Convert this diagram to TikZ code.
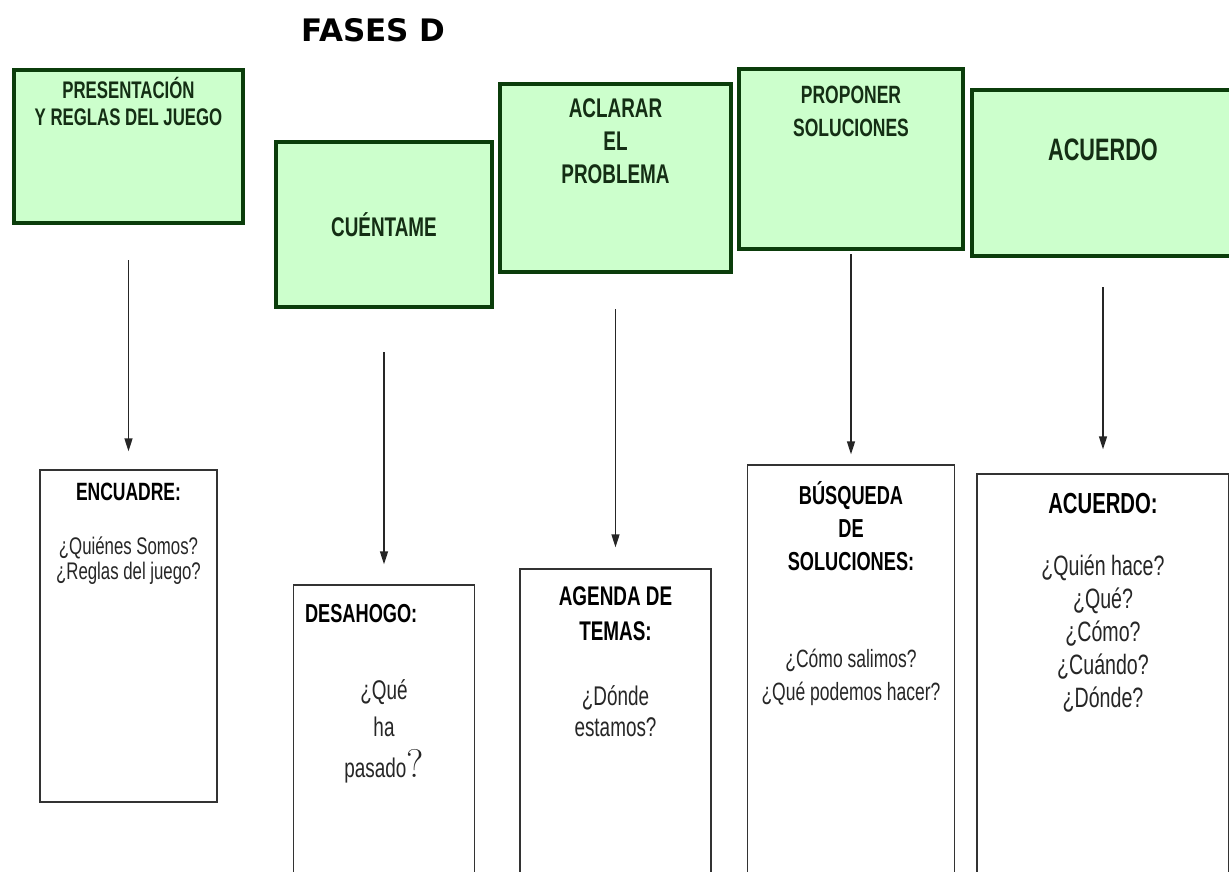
\documentclass[tikz,border=0pt]{standalone}
\usepackage{fontspec}
\newfontfamily\narrowfont[FakeStretch=0.7]{Liberation Sans}
\newfontfamily\titlefont{DejaVu Sans}
\usepackage{xcolor}
\usepackage{tikz}
\usetikzlibrary{arrows.meta,positioning}
\definecolor{fasefill}{HTML}{CCFFCC}
\definecolor{faseline}{HTML}{0B3D0B}
\definecolor{fasetext}{HTML}{142E14}

\begin{document}
\begin{tikzpicture}[
    x=1pt, y=-1pt,
    fase/.style={rectangle, draw=faseline, fill=fasefill, line width=4pt, inner sep=0},
    tarea/.style={rectangle, draw=black!80, line width=1.3pt, inner sep=0},
    fasetxt/.style={align=center, text=fasetext, inner sep=0, font=\narrowfont\bfseries\fontsize{25}{33}\selectfont},
    tareahead/.style={align=center, inner sep=0, font=\narrowfont\bfseries\fontsize{26}{33}\selectfont},
    pregunta/.style={align=center, inner sep=0, text=black!85, font=\narrowfont\fontsize{25}{33}\selectfont},
    flecha/.style={draw=black!85, line width=1.3pt, -{Triangle[length=13pt,width=8pt]}}]
\useasboundingbox[fill=white] (0,0) rectangle (1229,872);

\node[font=\titlefont\bfseries\fontsize{31}{31}\selectfont] (titulo) at (373.5,30) {FASES D};

% fases
\node[fase, minimum width=229pt, minimum height=153pt] (fase1) at (128.5,146.5) {};
\node[fase, minimum width=216pt, minimum height=165pt] (fase2) at (384,224.5) {};
\node[fase, minimum width=231pt, minimum height=188pt] (fase3) at (615.5,178) {};
\node[fase, minimum width=224pt, minimum height=180pt] (fase4) at (851,159) {};
\node[fase, minimum width=262pt, minimum height=166pt] (fase5) at (1103,173) {};

\node[fasetxt, font=\narrowfont\bfseries\fontsize{24}{27}\selectfont] (f1txt) at ([yshift=-33.5pt]fase1.north) {PRESENTACIÓN\\Y REGLAS DEL JUEGO};
\node[fasetxt, font=\narrowfont\bfseries\fontsize{27}{30}\selectfont] (f2txt) at (fase2) {CUÉNTAME};
\node[fasetxt, font=\narrowfont\bfseries\fontsize{27}{33}\selectfont] (f3txt) at ([yshift=-59pt]fase3.north) {ACLARAR\\EL\\PROBLEMA};
\node[fasetxt] (f4txt) at ([yshift=-44.5pt]fase4.north) {PROPONER\\SOLUCIONES};
\node[fasetxt, font=\narrowfont\bfseries\fontsize{31}{30}\selectfont] (f5txt) at ([yshift=-62pt]fase5.north) {ACUERDO};

% tareas
\node[tarea, minimum width=177pt, minimum height=332pt] (tarea1) at (128.5,636) {};
\node[tarea, minimum width=181pt, minimum height=315pt] (tarea2) at (384,742.5) {};
\node[tarea, minimum width=191pt, minimum height=331pt] (tarea3) at (615.5,734.5) {};
\node[tarea, minimum width=207pt, minimum height=435pt] (tarea4) at (851,682.5) {};
\node[tarea, minimum width=252pt, minimum height=426pt] (tarea5) at (1103,687) {};

\node[tareahead, font=\narrowfont\bfseries\fontsize{25}{26}\selectfont] (t1head) at ([yshift=-23pt]tarea1.north) {ENCUADRE:};
\node[pregunta, font=\narrowfont\fontsize{24}{25}\selectfont] (t1preg) at ([yshift=-91.5pt]tarea1.north) {¿Quiénes Somos?\\¿Reglas del juego?};

\node[tareahead, anchor=west] (t2head) at ([xshift=12pt, yshift=-29pt]tarea2.north west) {DESAHOGO:};
\node[pregunta, font=\narrowfont\fontsize{27}{37}\selectfont] (t2preg) at ([yshift=-147pt]tarea2.north) {¿Qué\\ha\\[4pt]pasado{\rmfamily\fontsize{40}{40}\selectfont ?}};

\node[tareahead, font=\narrowfont\bfseries\fontsize{27}{35}\selectfont] (t3head) at ([yshift=-45.5pt]tarea3.north) {AGENDA DE\\TEMAS:};
\node[pregunta, font=\narrowfont\fontsize{27}{31}\selectfont] (t3preg) at ([yshift=-142.5pt]tarea3.north) {¿Dónde\\estamos?};

\node[tareahead] (t4head) at ([yshift=-62pt]tarea4.north) {BÚSQUEDA\\DE\\SOLUCIONES:};
\node[pregunta] (t4preg) at ([yshift=-213.5pt]tarea4.north) {¿Cómo salimos?\\¿Qué podemos hacer?};

\node[tareahead, font=\narrowfont\bfseries\fontsize{29}{30}\selectfont] (t5head) at ([yshift=-30pt]tarea5.north) {ACUERDO:};
\node[pregunta, font=\narrowfont\fontsize{28}{33}\selectfont] (t5preg) at ([yshift=-160pt]tarea5.north) {¿Quién hace?\\¿Qué?\\¿Cómo?\\¿Cuándo?\\¿Dónde?};

% flechas
\draw[flecha, shorten <=35pt, shorten >=18pt] (fase1.south) -- (tarea1.north);
\draw[flecha, shorten <=43pt, shorten >=20pt] (fase2.south) -- (tarea2.north);
\draw[flecha, shorten <=35pt, shorten >=21pt] (fase3.south) -- (tarea3.north);
\draw[flecha, shorten <=3pt, shorten >=10pt] (fase4.south) -- (tarea4.north);
\draw[flecha, shorten <=29pt, shorten >=24pt] (fase5.south) -- (tarea5.north);

\end{tikzpicture}
\end{document}
